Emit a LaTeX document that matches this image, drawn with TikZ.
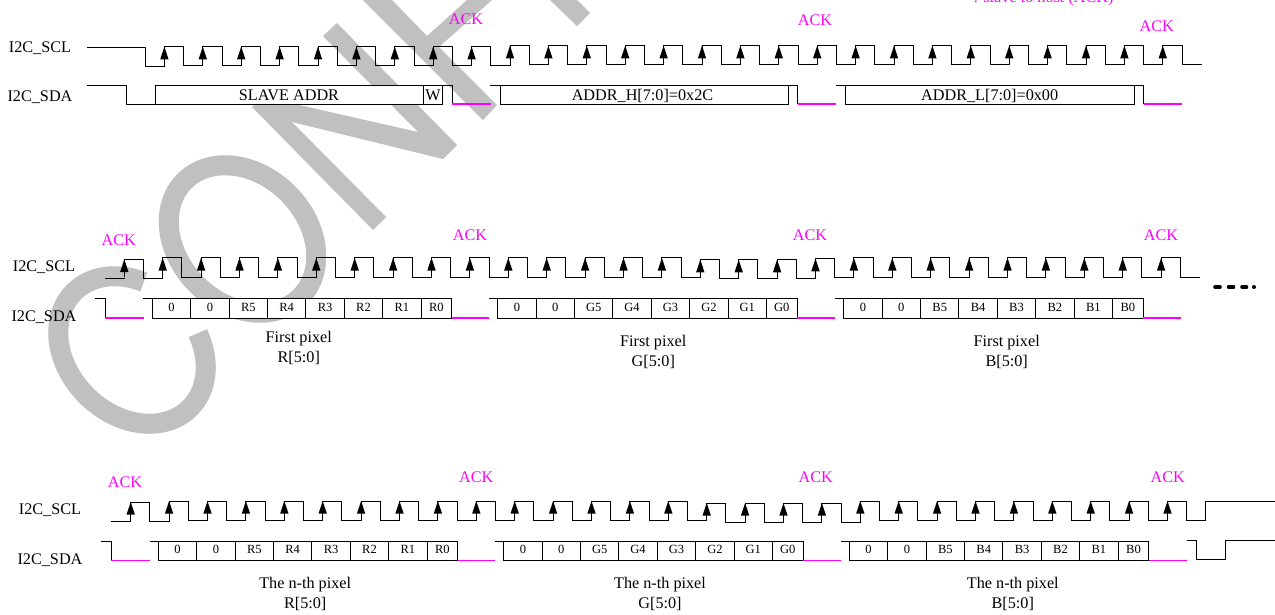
\documentclass[tikz,border=0pt]{standalone}
\usepackage{fontspec}
\setmainfont{Liberation Serif}
\definecolor{wm}{HTML}{C0C0C0}
\definecolor{ackc}{HTML}{FF00FF}
\tikzset{
  wire/.style={black,line width=0.95pt,line cap=rect,line join=miter},
  ackline/.style={ackc,line width=1.2pt},
  wmstroke/.style={wm,line width=20pt,line join=round},
  sig/.style={anchor=base,inner sep=0pt,font=\fontsize{16.2}{18}\selectfont},
  acklab/.style={sig,text=ackc},
  cellbox/.style={draw=black,fill=white,line width=0.95pt},
  celltxt/.style={anchor=base,inner sep=0pt,font=\fontsize{12.5}{14}\selectfont},
  edgetip/.style={fill=black,draw=none}
}
% #1 first rise, #2 last index, #3 y high, #4 y low, #5 offset expression in \K
\newcommand{\clkrow}[5]{%
  \foreach \k in {0,...,#2}{%
    \pgfmathtruncatemacro{\K}{\k}\pgfmathsetmacro{\dcur}{#5}%
    \pgfmathtruncatemacro{\K}{\k-1}\pgfmathsetmacro{\dprv}{#5}%
    \pgfmathsetmacro{\xr}{#1+38.4*\k}%
    \pgfmathsetmacro{\xf}{\xr+19.2}%
    \pgfmathsetmacro{\xn}{\xr+38.4}%
    \pgfmathsetmacro{\yh}{#3+\dcur}%
    \pgfmathsetmacro{\yl}{#4+\dcur}%
    \pgfmathsetmacro{\ylp}{#4+\dprv}%
    \pgfmathsetmacro{\yb}{\yh+12.7}%
    \draw[wire] (\xr,\ylp) -- (\xr,\yh) -- (\xf,\yh) -- (\xf,\yl) -- (\xn,\yl);
    \fill[edgetip] (\xr-4.2,\yb) -- (\xr,\yh) -- (\xr+4.2,\yb) -- cycle;
  }%
}
% #1 id, #2 x start, #3 y top, #4 y bottom, #5 text baseline, #6 labels
\newcommand{\cellrow}[6]{%
  \foreach \lab [count=\i from 0] in {#6}{%
    \pgfmathsetmacro{\xa}{#2+38.4*\i}%
    \pgfmathsetmacro{\xb}{\xa+(\i==7?30.7:38.4)}%
    \pgfmathsetmacro{\xc}{(\xa+\xb)/2}%
    \draw[cellbox] (\xa,#3) rectangle (\xb,#4);
    \node[celltxt] (cell#1\i) at (\xc,#5) {\lab};
  }%
}
\begin{document}
\begin{tikzpicture}[x=1pt,y=-1pt]
\useasboundingbox (0,0) rectangle (1275,614);
\clip (0,0) rectangle (1275,614);
\fill[white] (0,0) rectangle (1275,614);
% watermark
\draw[wmstroke] plot[domain=119:425,samples=90] ({132+82*cos(\x)*0.7071+64.5*sin(\x)*0.7071},{350+82*cos(\x)*0.7071-64.5*sin(\x)*0.7071});
\draw[wmstroke] plot[domain=0:365,samples=90] ({242.5+82*cos(\x)*0.7071+64.5*sin(\x)*0.7071},{239+82*cos(\x)*0.7071-64.5*sin(\x)*0.7071});
\fill[wm] (373,230) -- (386,217) -- (292,122) -- (443,159) -- (457,145) -- (337,23) -- (323,36) -- (418,132) -- (264,97) -- (252,107) -- cycle;
\fill[wm] (483,120) -- (497,105) -- (439,47) -- (492,0) -- (467,0) -- (427,36) -- (392,0) -- (363,0) -- cycle;
\fill[wm] (550,0) -- (577,26) -- (590,13) -- (577,0) -- cycle;
% top note
\node[acklab] (note) at (1043.5,2) {: slave to host (ACK)};
% ---- row 1
\node[sig] (scl1) at (40,52.3) {I2C\_SCL};
\node[sig] (sda1) at (40,101) {I2C\_SDA};
\draw[wire] (87,47) -- (145,47) -- (145,66) -- (164.4,66);
\clkrow{164.4}{26}{46.7}{65.9}{(\K>=9?-1:0)}
\draw[wire] (87,85) -- (126,85) -- (126,104) -- (155,104);
\draw[cellbox] (155,85) rectangle (423.3,104);
\draw[cellbox] (423.3,85) rectangle (442.7,104);
\node[sig] (slave) at (289,100) {SLAVE ADDR};
\node[sig] (wbit) at (433,100) {W};
\draw[wire] (442.7,85) -- (452.3,85) -- (452.3,104);
\draw[ackline] (452.3,104) -- (490.7,104);
\draw[wire] (490.7,85) -- (500,85);
\draw[cellbox] (500,85) rectangle (788.7,104);
\node[sig] (addrh) at (642.5,100) {ADDR\_H[7:0]=0x2C};
\draw[wire] (788.7,85) -- (797.7,85) -- (797.7,104);
\draw[ackline] (797.7,104) -- (836,104);
\draw[wire] (836,85) -- (845.7,85);
\draw[cellbox] (845.7,85) rectangle (1134,104);
\node[sig] (addrl) at (989.7,100) {ADDR\_L[7:0]=0x00};
\draw[wire] (1134,85) -- (1143.7,85) -- (1143.7,104);
\draw[ackline] (1143.7,104) -- (1181.7,104);
\node[acklab] (a1a) at (466,24) {ACK};
\node[acklab] (a1b) at (815,25) {ACK};
\node[acklab] (a1c) at (1156.7,31.7) {ACK};
% ---- row 2
\node[sig] (scl2) at (44,271.7) {I2C\_SCL};
\node[sig] (sda2) at (44,321) {I2C\_SDA};
\draw[wire] (105,278.3) -- (124.3,278.3);
\clkrow{124.3}{27}{257.9}{277}{(\K>=15&&\K<=17?1.7:(\K==18?0.7:(\K==0?1.4:0)))}
\draw[wire] (95,298.3) -- (105,298.3) -- (105,318);
\draw[ackline] (105,318) -- (143.7,318);
\draw[wire] (143.7,298.3) -- (152.3,298.3);
\cellrow{r}{152.3}{298.3}{318}{311}{0,0,R5,R4,R3,R2,R1,R0}
\draw[ackline] (451.7,318) -- (489.3,318);
\draw[wire] (489.3,298.3) -- (497.7,298.3);
\cellrow{g}{497.7}{298.3}{318}{311}{0,0,G5,G4,G3,G2,G1,G0}
\draw[ackline] (797.3,318) -- (835,318);
\draw[wire] (835,298.3) -- (843.7,298.3);
\cellrow{b}{843.7}{298.3}{318}{311}{0,0,B5,B4,B3,B2,B1,B0}
\draw[ackline] (1143,318) -- (1180.7,318);
\node[acklab] (a2a) at (118.7,245.7) {ACK};
\node[acklab] (a2b) at (470,240) {ACK};
\node[acklab] (a2c) at (810,240) {ACK};
\node[acklab] (a2d) at (1161,240) {ACK};
\node[sig] (c2a) at (298.8,342.3) {First pixel};
\node[sig] (c2b) at (298.8,362.3) {R[5:0]};
\node[sig] (c2c) at (653.3,346.7) {First pixel};
\node[sig] (c2d) at (653.3,366.7) {G[5:0]};
\node[sig] (c2e) at (1006.7,346.7) {First pixel};
\node[sig] (c2f) at (1006.7,366.7) {B[5:0]};
\draw[black,line width=3.6pt,line cap=round] (1215,287) -- (1220,287) (1228.5,287) -- (1233.5,287) (1242,287) -- (1246.5,287) (1253.8,287) -- (1254.2,287);
% ---- row 3
\node[sig] (scl3) at (50,514) {I2C\_SCL};
\node[sig] (sda3) at (50,564) {I2C\_SDA};
\draw[wire] (111,521.7) -- (130.7,521.7);
\clkrow{130.7}{27}{501}{520.7}{(\K>=15&&\K<=18?2:(\K==0?1:0))}
\draw[wire] (1205.9,520.7) -- (1205.9,501.7) -- (1274.5,501.7);
\draw[wire] (101,541) -- (111,541) -- (111,560.5);
\draw[ackline] (111,560.5) -- (150,560.5);
\draw[wire] (150,541) -- (158.3,541);
\cellrow{s}{158.3}{541}{560.5}{553.7}{0,0,R5,R4,R3,R2,R1,R0}
\draw[ackline] (458.3,560.5) -- (495.3,560.5);
\draw[wire] (495.3,541) -- (503.7,541);
\cellrow{h}{503.7}{541}{560.5}{553.7}{0,0,G5,G4,G3,G2,G1,G0}
\draw[ackline] (803.3,560.5) -- (841,560.5);
\draw[wire] (841,541) -- (849.3,541);
\cellrow{c}{849.3}{541}{560.5}{553.7}{0,0,B5,B4,B3,B2,B1,B0}
\draw[ackline] (1149.3,560.5) -- (1186.7,560.5);
\draw[wire] (1187.3,540) -- (1196.7,540) -- (1196.7,559) -- (1225.7,559) -- (1225.7,540) -- (1274.5,540);
\node[acklab] (a3a) at (125,487.3) {ACK};
\node[acklab] (a3b) at (476.3,482.7) {ACK};
\node[acklab] (a3c) at (815.7,482.7) {ACK};
\node[acklab] (a3d) at (1167.7,482.7) {ACK};
\node[sig] (c3a) at (305.2,588.3) {The n-th pixel};
\node[sig] (c3b) at (305.2,608.3) {R[5:0]};
\node[sig] (c3c) at (660,588.3) {The n-th pixel};
\node[sig] (c3d) at (660,608.3) {G[5:0]};
\node[sig] (c3e) at (1012.8,588.3) {The n-th pixel};
\node[sig] (c3f) at (1012.8,608.3) {B[5:0]};
\end{tikzpicture}
\end{document}
